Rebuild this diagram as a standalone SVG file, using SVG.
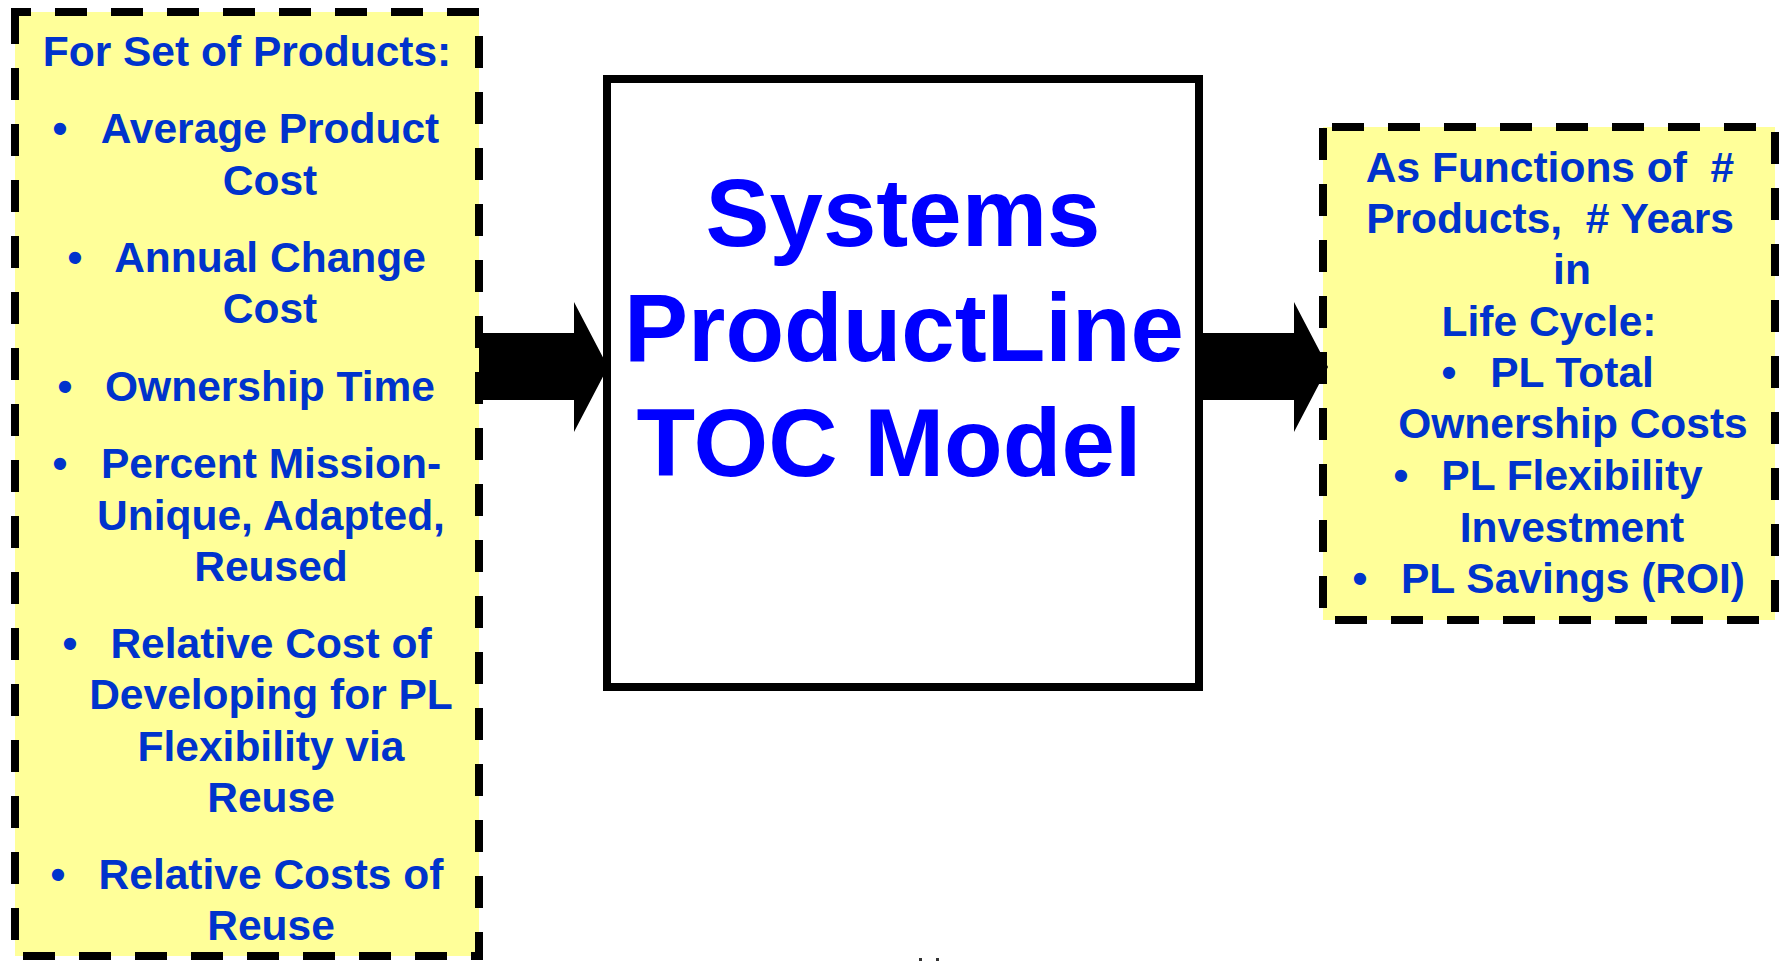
<svg xmlns="http://www.w3.org/2000/svg" width="1785" height="961" viewBox="0 0 1785 961">
  <style>
    .panel { fill: #FFFF99; stroke: #000000; stroke-width: 8; stroke-dasharray: 32 24; }
    .model { fill: #FFFFFF; stroke: #000000; stroke-width: 8; }
    .arrow { fill: #000000; stroke: none; }
    .txt { font-family: "Liberation Sans", Arial, Helvetica, sans-serif; font-weight: bold; font-size: 42.5px; fill: #0033CC; text-anchor: middle; }
    .big { font-family: "Liberation Sans", Arial, Helvetica, sans-serif; font-weight: bold; font-size: 96px; fill: #0000FF; text-anchor: middle; }
  </style>

  <!-- Inputs panel -->
  <g id="inputs">
    <rect class="panel" x="15" y="12" width="464" height="944" stroke-dashoffset="16"/>
    <text class="txt" x="247" y="66">For Set of Products:</text>
    <text class="txt" x="60" y="143">•</text>
    <text class="txt" x="270" y="143">Average Product</text>
    <text class="txt" x="270" y="195">Cost</text>
    <text class="txt" x="75" y="272">•</text>
    <text class="txt" x="270" y="272">Annual Change</text>
    <text class="txt" x="270" y="323">Cost</text>
    <text class="txt" x="65" y="401">•</text>
    <text class="txt" x="270" y="401">Ownership Time</text>
    <text class="txt" x="60" y="478">•</text>
    <text class="txt" x="271" y="478">Percent Mission-</text>
    <text class="txt" x="271" y="530">Unique, Adapted,</text>
    <text class="txt" x="271" y="581">Reused</text>
    <text class="txt" x="70" y="658">•</text>
    <text class="txt" x="271" y="658">Relative Cost of</text>
    <text class="txt" x="271" y="709">Developing for PL</text>
    <text class="txt" x="271" y="761">Flexibility via</text>
    <text class="txt" x="271" y="812">Reuse</text>
    <text class="txt" x="58" y="889">•</text>
    <text class="txt" x="271" y="889">Relative Costs of</text>
    <text class="txt" x="271" y="940">Reuse</text>
  </g>

  <!-- Central model block -->
  <g id="model">
    <rect class="model" x="607" y="79" width="592" height="608"/>
    <text class="big" x="903" y="246">Systems</text>
    <text class="big" x="904" y="361">ProductLine</text>
    <text class="big" x="889" y="476">TOC Model</text>
  </g>

  <!-- Outputs panel -->
  <g id="outputs">
    <rect class="panel" x="1323" y="127" width="452" height="493" stroke-dashoffset="47"/>
    <text class="txt" x="1550" y="182" xml:space="preserve">As Functions of  #</text>
    <text class="txt" x="1550" y="233" xml:space="preserve">Products,  # Years</text>
    <text class="txt" x="1572" y="284">in</text>
    <text class="txt" x="1549" y="336">Life Cycle:</text>
    <text class="txt" x="1449" y="387">•</text>
    <text class="txt" x="1572" y="387">PL Total</text>
    <text class="txt" x="1573" y="438">Ownership Costs</text>
    <text class="txt" x="1401" y="490">•</text>
    <text class="txt" x="1572" y="490">PL Flexibility</text>
    <text class="txt" x="1572" y="542">Investment</text>
    <text class="txt" x="1360" y="593">•</text>
    <text class="txt" x="1573" y="593">PL Savings (ROI)</text>
  </g>

  <!-- Connectors: block arrows -->
  <g id="connectors">
    <polygon class="arrow" points="479,333 574,333 574,302 608,367 574,432 574,400 479,400"/>
    <polygon class="arrow" points="1199,333 1294,333 1294,302 1328,367 1294,432 1294,400 1199,400"/>
  </g>

  <!-- stray marks along the lower edge -->
  <rect x="919" y="958" width="3" height="3" fill="#333333"/>
  <rect x="936" y="958" width="3" height="3" fill="#333333"/>
</svg>
